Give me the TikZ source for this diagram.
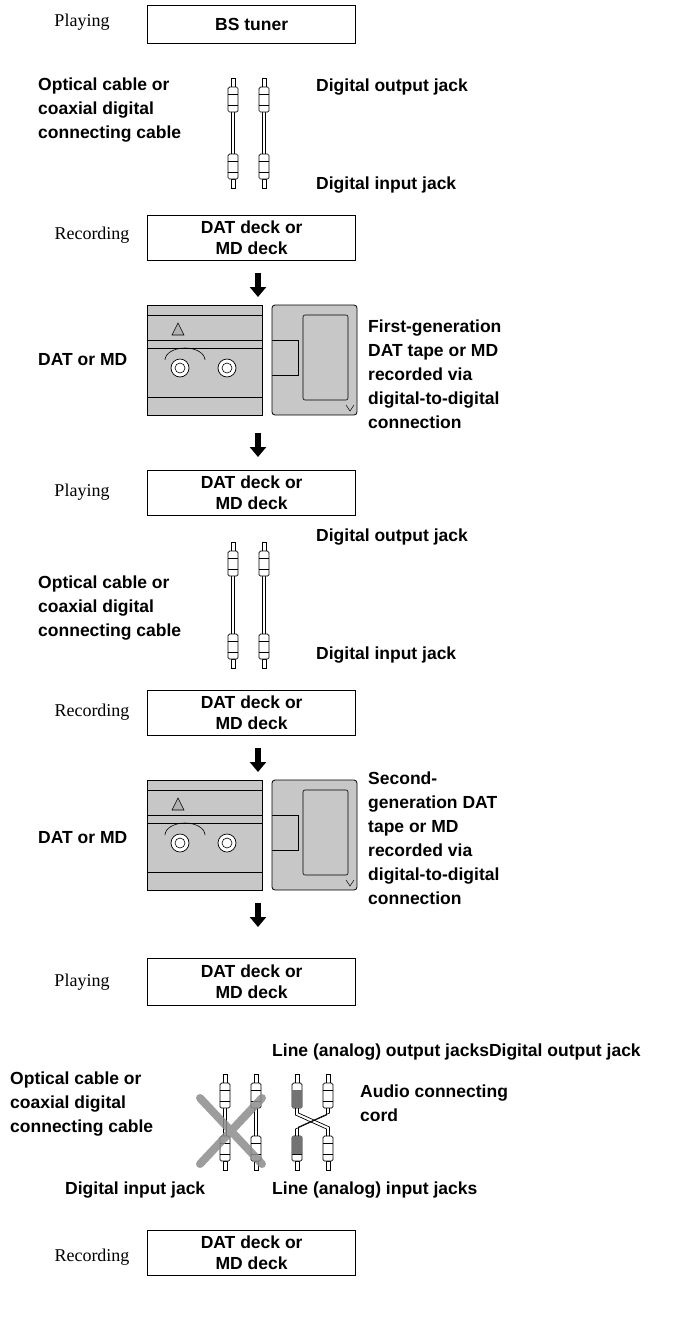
\documentclass[tikz,border=0pt]{standalone}
\usetikzlibrary{arrows.meta}
\usepackage{fontspec}
\setmainfont{Liberation Serif}
\setsansfont{Liberation Sans}
\begin{document}
\begin{tikzpicture}[x=1pt,y=-1pt,
 box/.style={draw,line width=1.3pt,minimum width=208pt,anchor=north west,inner sep=0pt,font=\sffamily\bfseries\fontsize{17.5}{21}\selectfont,align=center},
 lab/.style={font=\sffamily\bfseries\fontsize{17.5}{24}\selectfont,align=left,anchor=west,inner sep=0pt},
 ser/.style={font=\fontsize{18}{20}\selectfont,inner sep=0pt},
 down/.style={-{Triangle[length=10pt,width=16pt]},line width=6pt},
 cw/.style={line width=0.7pt,fill=white}]
\useasboundingbox (0,0) rectangle (699,1318);
\newcommand\plug[3]{% x, y (top tip), direction 1 down / -1 up
 \begin{scope}[shift={(#1,#2)},yscale=#3]
 \draw[cw] (-2,0) -- (2,0) -- (2,9) -- (-2,9) -- cycle;
 \draw[cw,rounded corners=1.5pt] (-5,9) rectangle (5,34);
 \draw[line width=0.6pt] (-5,16) -- (5,16) (-5,27)--(5,27);
 \end{scope}}
\newcommand\cables[3]{% y top, y bottom, x offset
 \foreach \xx in {233,264}{
 \draw[line width=0.7pt] (\xx-1.5+#3,#1+34) -- (\xx-1.5+#3,#2-34) (\xx+1.5+#3,#1+34) -- (\xx+1.5+#3,#2-34);
 \plug{\xx+#3}{#1}{1}\plug{\xx+#3}{#2}{-1}}}
\newcommand\cassettes[1]{%
 \begin{scope}[shift={(0,#1)}]
 \draw[line width=0.8pt,fill=black!22] (147,0) rectangle (262,110);
 \draw[line width=0.6pt] (147,10)--(262,10) (147,35)--(262,35) (147,43)--(262,43) (147,92)--(262,92);
 \draw[line width=0.6pt,fill=black!30] (172,30)--(178,18)--(184,30)--cycle;
 \draw[line width=0.6pt] (165,55) arc (180:360:20 and 12);
 \foreach \cx in {180,227}{\draw[line width=0.7pt,fill=white] (\cx,63) circle (9);\draw[line width=0.6pt] (\cx,63) circle (5);}
 \draw[line width=0.8pt,fill=black!22,rounded corners=3pt] (272,0) rectangle (357,110);
 \draw[line width=0.7pt] (272,35) -- (298,35) -- (298,70) -- (272,70);
 \draw[line width=0.6pt,rounded corners=2pt] (303,10) rectangle (348,95);
 \draw[line width=0.5pt] (346,100)--(350,106)--(354,100);
 \end{scope}}
% row 1
\node[ser] (p1) at (82,22) {Playing};
\node[box,minimum height=38pt] (b1) at (147,5) {BS tuner};
\node[lab] (l1) at (38,110) {Optical cable or\\coaxial digital\\connecting cable};
\cables{78}{188}{0}
\node[lab] (o1) at (316,87) {Digital output jack};
\node[lab] (i1) at (316,185) {Digital input jack};
\node[ser] (r1) at (92,235) {Recording};
\node[box,minimum height=45pt] (b2) at (147,215) {DAT deck or\\MD deck};
\coordinate (a1) at (258,273); \coordinate (a1e) at (258,297);
\draw[down] (a1) -- (a1e);
\cassettes{305}
\node[lab] (d1) at (38,360) {DAT or MD};
\node[lab,anchor=north west] (t1) at (368,320) {First-generation\\DAT tape or MD\\recorded via\\digital-to-digital\\connection};
\coordinate (a2) at (258,433); \coordinate (a2e) at (258,457);
\draw[down] (a2) -- (a2e);
\node[ser] (p2) at (82,492) {Playing};
\node[box,minimum height=45pt] (b3) at (147,470) {DAT deck or\\MD deck};
\node[lab] (l2) at (38,608) {Optical cable or\\coaxial digital\\connecting cable};
\cables{542}{668}{0}
\node[lab] (o2) at (316,537) {Digital output jack};
\node[lab] (i2) at (316,655) {Digital input jack};
\node[ser] (r2) at (92,712) {Recording};
\node[box,minimum height=45pt] (b4) at (147,690) {DAT deck or\\MD deck};
\coordinate (a3) at (258,748); \coordinate (a3e) at (258,772);
\draw[down] (a3) -- (a3e);
\cassettes{780}
\node[lab] (d2) at (38,838) {DAT or MD};
\node[lab,anchor=north west] (t2) at (368,772) {Second-\\generation DAT\\tape or MD\\recorded via\\digital-to-digital\\connection};
\coordinate (a4) at (258,903); \coordinate (a4e) at (258,927);
\draw[down] (a4) -- (a4e);
\node[ser] (p3) at (82,982) {Playing};
\node[box,minimum height=47pt] (b5) at (147,958) {DAT deck or\\MD deck};
\node[lab] (lo) at (272,1052) {Line (analog) output jacksDigital output jack};
\node[lab] (l3) at (10,1104) {Optical cable or\\coaxial digital\\connecting cable};
\begin{scope}[shift={(-8,0)}]\cables{1074}{1170}{0}\end{scope}
\draw[line width=8pt,black!45,opacity=0.85,line cap=round] (200,1098) -- (262,1164) (262,1098) -- (200,1164);
% audio cord
\begin{scope}[line width=0.7pt]
\foreach \xx in {297,328}{\plug{\xx}{1074}{1}\plug{\xx}{1170}{-1}}
\fill[black!55] (292,1090) rectangle (302,1108) (292,1136) rectangle (302,1154);
\draw (295.5,1108) -- (295.5,1115) -- (326.5,1129) -- (326.5,1136);
\draw (298.5,1108) -- (298.5,1113) -- (329.5,1127) -- (329.5,1136);
\draw (326.5,1108) -- (326.5,1115) -- (295.5,1129) -- (295.5,1136);
\draw (329.5,1108) -- (329.5,1113) -- (298.5,1127) -- (298.5,1136);
\end{scope}
\node[lab] (ac) at (360,1103) {Audio connecting\\cord};
\node[lab] (i3) at (65,1190) {Digital input jack};
\node[lab] (li) at (272,1190) {Line (analog) input jacks};
\node[ser] (r3) at (92,1257) {Recording};
\node[box,minimum height=45pt] (b6) at (147,1230) {DAT deck or\\MD deck};
\end{tikzpicture}
\end{document}
